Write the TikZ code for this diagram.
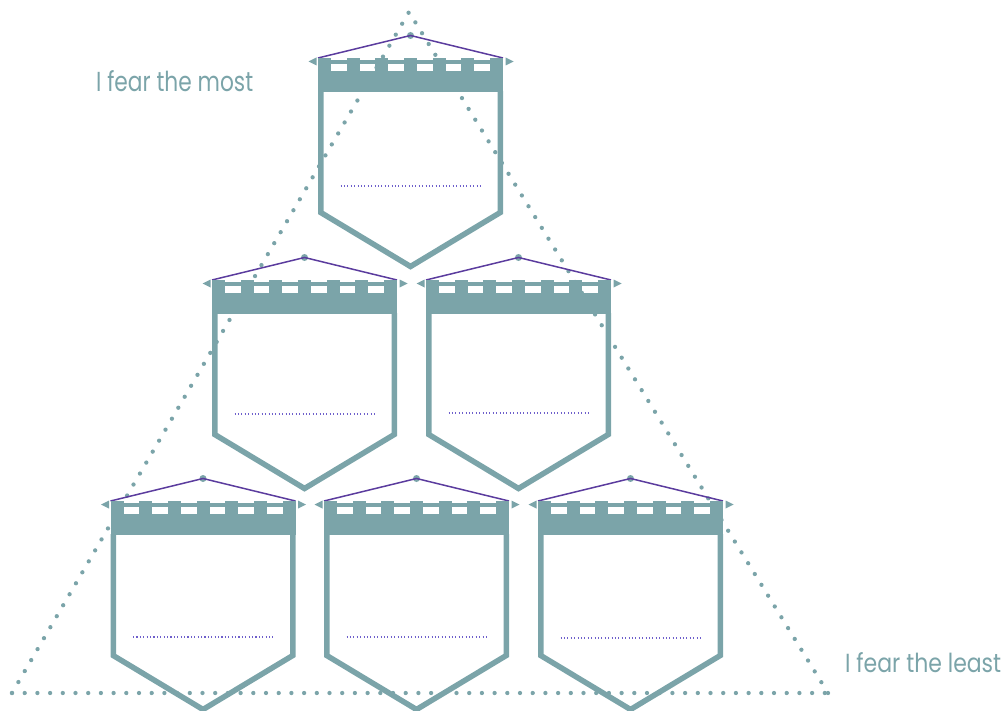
\documentclass[tikz,border=0pt]{standalone}
\usepackage{graphicx}
\usepackage{fontspec}
\setmainfont{Poppins}
\definecolor{shieldteal}{HTML}{7BA4A9}
\definecolor{roofpurple}{HTML}{5B3C9E}
\definecolor{linepurple}{HTML}{6E5FCB}
\tikzset{
  roofline/.style={roofpurple, line width=1.5},
  shieldline/.style={shieldteal, line width=5.5, miter limit=10},
  writeline/.style={linepurple, line width=1.1, dash pattern=on 1.1 off 2.3},
  pyramid/.style={shieldteal, line width=4.3, line cap=round, dash pattern=on 0pt off 12.7pt},
  label/.style={anchor=base west, text=shieldteal, inner sep=0}
}
\newcommand\drawshield[3]{%
 \begin{scope}[shift={(#1,#2)}]
  \fill[shieldteal] (0,-22.5) circle (3.5);
  \draw[roofline] (-92.5,0) -- (0,-22.5) -- (92.5,0);
  \fill[shieldteal] (-102,3.5) -- (-94,-0.5) -- (-94,7.5) -- cycle;
  \fill[shieldteal] (103,3.5) -- (95,-0.5) -- (95,7.5) -- cycle;
  \foreach \i in {0,...,6} \fill[shieldteal] ({-92.5+\i*28.67},0) rectangle ++(13,13.5);
  \fill[shieldteal] (-92.5,2) rectangle (92.5,6);
  \fill[shieldteal] (-92.5,13) rectangle (92.5,34);
  \draw[shieldline] (-89.75,33) -- (-89.75,154.5) -- (0,208.5) -- (89.75,154.5) -- (89.75,33);
  \draw[writeline] (-70,#3) -- (70,#3);
 \end{scope}}
\begin{document}
\begin{tikzpicture}[x=1pt,y=-1pt]
\useasboundingbox (0,0) rectangle (1008,711);
\coordinate (apex) at (409,12);
\coordinate (bl) at (12,693);
\coordinate (br) at (828,693);
\draw[pyramid] (bl) -- (apex);
\draw[pyramid] (br) -- (apex);
\draw[pyramid] (bl) -- (br);
\drawshield{410.5}{58}{128}
\drawshield{304.5}{280}{134}
\drawshield{518.5}{280}{133}
\drawshield{203}{501}{136}
\drawshield{416.5}{501}{136}
\drawshield{630.5}{501}{137}
\node[label] (most) at (96,92) {\resizebox{157pt}{21pt}{I fear the most}};
\node[label] (least) at (845,672) {\resizebox{156pt}{20pt}{I fear the least}};
\end{tikzpicture}
\end{document}
